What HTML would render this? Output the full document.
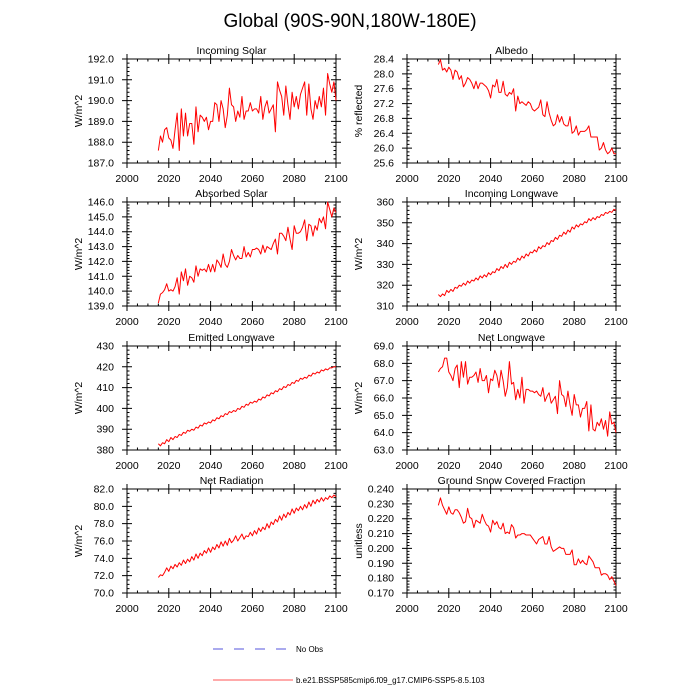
<!DOCTYPE html>
<html><head><meta charset="utf-8"><style>
body{margin:0;background:#fff;}
svg{display:block;font-family:"Liberation Sans",sans-serif;}
</style></head><body>
<svg id="c" width="700" height="700" viewBox="0 0 700 700">
<rect width="700" height="700" fill="#fff"/>
<text x="350" y="27" font-size="19" text-anchor="middle">Global (90S-90N,180W-180E)</text>
<g id="panels"></g>
<g>
<line x1="213" y1="649" x2="287" y2="649" stroke="#5555dd" stroke-width="0.9" stroke-dasharray="10,11"/>
<text x="296" y="652" font-size="8">No Obs</text>
<line x1="213" y1="680" x2="293" y2="680" stroke="#ff5555" stroke-width="0.9"/>
<text x="296" y="683" font-size="8">b.e21.BSSP585cmip6.f09_g17.CMIP6-SSP5-8.5.103</text>
</g>
</svg>
<script>
const years=[];for(let y=2015;y<=2100;y++)years.push(y);
const xTicks=[2000,2020,2040,2060,2080,2100];
const incomingSolar=[187.6,188.3,188.0,188.6,188.7,188.2,188.1,187.7,188.6,189.4,187.6,189.6,188.3,189.4,188.3,188.9,188.9,187.9,189.7,188.5,189.3,189.2,189.0,189.2,188.6,189.0,189.0,189.9,189.8,189.0,190.0,189.6,188.7,189.3,190.6,189.8,189.7,189.0,189.5,189.2,190.2,189.1,189.5,189.5,189.9,189.5,189.6,189.6,189.4,190.2,189.1,189.7,190.0,189.4,189.6,189.8,188.5,190.9,190.5,190.2,189.3,190.7,189.8,189.1,190.4,189.7,190.2,189.6,190.3,190.6,190.9,189.3,190.8,189.6,189.1,190.0,189.6,190.2,189.7,190.6,189.3,191.3,190.8,190.4,190.9,190.0];
const albedo=[28.25,28.38,28.1,28.15,28.05,28.18,28.1,27.85,28.1,28.05,27.85,27.95,27.65,27.75,27.9,27.85,27.75,27.6,27.8,27.6,27.75,27.75,27.7,27.65,27.55,27.35,27.7,27.65,27.85,27.5,27.5,27.8,27.45,27.4,27.5,27.45,27.6,27.0,27.4,27.2,27.25,27.2,27.15,27.25,27.2,27.05,27.0,27.05,27.1,27.3,26.9,26.85,27.25,26.95,26.75,26.6,26.65,26.9,26.7,26.85,26.65,26.6,26.6,26.85,26.4,26.45,26.6,26.35,26.45,26.45,26.45,26.5,26.6,26.3,26.3,26.3,26.3,25.95,26.0,26.15,25.95,25.85,25.9,26.0,25.85,25.85];
const absorbedSolar=[139.2,139.8,139.9,140.1,140.5,140.0,140.1,140.0,140.3,140.9,139.8,141.3,140.7,141.5,140.4,141.0,140.9,140.6,141.7,141.0,141.5,141.4,141.5,141.3,141.8,141.3,141.8,141.3,142.1,141.9,141.6,142.5,141.8,141.6,142.0,142.8,142.4,142.1,142.4,142.2,142.2,143.0,142.3,142.6,142.3,142.8,142.8,142.9,142.8,142.5,143.1,142.6,143.0,142.9,142.8,143.2,143.5,142.5,143.9,143.9,143.7,143.4,144.3,143.5,142.8,144.4,143.9,143.9,144.0,144.3,144.8,143.4,144.5,144.4,143.7,144.4,144.1,144.9,144.6,145.0,144.2,146.0,145.5,145.0,145.6,145.3];
const incomingLW=[315.5,314.5,315.8,315,317.5,316.5,318,317,319,318.5,320,319.5,321,320,322,321,322.5,322,323.5,322.5,324.5,323.5,325,324,326,325,326.5,326,328,327,329,328,330,328.5,331,330,331.5,331,333,332,334,333,335,334,336,335.5,337,336,338.5,337.5,339,338.5,340.5,339.5,341.5,341,343,342,344,343.5,345.5,344.5,346.5,345.5,348,347,349,348,349.5,349,350.5,350,352,351,352.5,351.5,353,352.5,354,353.5,355,354.5,355.5,355,356.5,356];
const emittedLW=[383,382,383.5,383,385,384,386,385,386.5,386,387.5,387,388.5,388,389.5,389,390,389.5,391,390.5,392,391.5,393,392.5,393.5,393,394.5,394,395.5,395,396.5,396,397.5,397,398.5,398,399,398.5,400,399.5,401,400.5,402,401.5,403,402.5,403.5,403,404.5,404,405.5,405,406.5,406,407.5,407,408.5,408,409.5,409,410.5,410,411.5,411,412.5,412,413.5,413,414.5,414,415,414.5,416,415.5,417,416.5,417.5,417,418.5,418,419,418.5,419.5,419.5,420,420];
const netLW=[67.5,67.7,67.8,68.3,68.3,67.5,67.3,67.0,67.7,67.9,66.6,68.1,67.2,68.1,66.8,67.2,67.2,67.3,67.5,66.9,67.7,67.0,67.0,67.3,66.3,67.1,67.0,67.6,67.3,66.6,67.6,67.0,66.1,66.6,68.1,66.8,66.9,65.9,66.5,66.0,67.2,65.7,66.5,66.5,66.4,66.4,66.3,66.4,66.2,66.1,66.6,65.8,66.1,66.3,65.7,65.9,66.1,65.1,67.0,66.2,66.1,65.5,66.4,65.6,65.0,66.2,65.6,65.6,64.9,65.4,65.4,65.8,64.1,65.6,64.2,64.1,64.6,64.4,64.8,64.2,64.7,63.8,65.2,64.5,64.6,64.0];
const netRad=[71.8,72.1,72.0,72.4,72.9,72.5,73.1,72.8,73.3,73.0,73.5,73.2,73.8,73.4,73.9,73.6,74.2,73.8,74.5,74.0,74.6,74.3,74.9,74.6,75.2,74.7,75.3,75.0,75.6,75.2,75.9,75.4,76.0,75.5,76.3,75.8,76.1,76.6,76.0,76.4,76.8,76.2,76.6,76.5,77.0,76.6,77.2,76.8,77.5,77.1,77.6,77.3,78.0,77.5,78.2,77.9,78.5,78.2,78.9,78.4,79.1,78.7,79.3,79.0,79.7,79.2,79.8,79.5,80.0,79.6,80.2,79.8,80.5,80.0,80.7,80.3,80.8,80.5,81.0,80.6,81.0,80.8,81.2,81.0,81.3,81.1];
const snowFrac=[.229,.234,.229,.226,.223,.228,.224,.223,.226,.226,.224,.221,.217,.218,.227,.221,.220,.214,.219,.218,.217,.223,.219,.216,.215,.211,.219,.216,.218,.214,.213,.217,.210,.211,.210,.216,.214,.207,.209,.209,.210,.210,.209,.209,.209,.207,.205,.203,.206,.207,.208,.203,.203,.208,.201,.198,.199,.200,.201,.200,.200,.196,.196,.196,.199,.189,.189,.193,.190,.192,.190,.189,.195,.193,.191,.187,.187,.187,.182,.183,.183,.182,.179,.181,.178,.175];
const titles=["Incoming Solar","Albedo","Absorbed Solar","Incoming Longwave","Emitted Longwave","Net Longwave","Net Radiation","Ground Snow Covered Fraction"];
const yLabels=["W/m^2","% reflected","W/m^2","W/m^2","W/m^2","W/m^2","W/m^2","unitless"];
const yMins=[187,25.6,139,310,380,63,70,0.170];
const yMaxs=[192,28.4,146,360,430,69,82,0.240];
const yStepsMajor=[1,0.4,1,10,10,1,2,0.01];
const yDecimals=[1,1,1,0,0,1,1,3];
const yMinorPer=[5,4,5,5,5,5,4,5];
const series=[incomingSolar,albedo,absorbedSolar,incomingLW,emittedLW,netLW,netRad,snowFrac];
const NS="http://www.w3.org/2000/svg";
const root=document.getElementById('panels');
function mk(tag,attrs,parent){const e=document.createElementNS(NS,tag);for(const k in attrs)e.setAttribute(k,attrs[k]);parent.appendChild(e);return e;}
const lefts=[127,407],tops=[59,202,346,489],W=209,H=104;
for(let i=0;i<8;i++){
  const L=lefts[i%2],T=tops[Math.floor(i/2)];
  const g=mk('g',{},root);
  
  
  const xs=v=>L+(v-2000)/100*W;
  const ys=v=>T+H-(v-yMins[i])/(yMaxs[i]-yMins[i])*H;
  const t=mk('text',{x:L+W/2,y:T-5,'font-size':10.5,'text-anchor':'middle'},g);t.textContent=titles[i];
  
  
  const yl=mk('text',{x:0,y:0,'font-size':10.5,'text-anchor':'middle',transform:`translate(${L-45},${T+H/2}) rotate(-90)`},g);yl.textContent=yLabels[i];
  
  
  let p='';
  for(let v=2000;v<=2100;v+=5){const x=xs(v);
    if(v%20===0)p+=`M${x},${T+H+5}v-10M${x},${T-5}v10`;
    else p+=`M${x},${T+H}v-2.5M${x},${T}v2.5`;}
  xTicks.forEach(v=>{const tx=mk('text',{x:xs(v),y:T+H+19,'font-size':10.5,'text-anchor':'middle'},g);tx.textContent=v;
    
    });
  const step=yStepsMajor[i],nMaj=Math.round((yMaxs[i]-yMins[i])/step);
  for(let k=0;k<=nMaj;k++){const v=yMins[i]+k*step;const y=ys(v);
    p+=`M${L-5},${y}h10M${L+W+5},${y}h-10`;
    const ty=mk('text',{x:L-13,y:y+3.5,'font-size':10.5,'text-anchor':'end'},g);ty.textContent=v.toFixed(yDecimals[i]);
    
    
    if(k<nMaj)for(let m=1;m<yMinorPer[i];m++){const yy=ys(v+m*step/yMinorPer[i]);p+=`M${L},${yy}h2.5M${L+W},${yy}h-2.5`;}
  }
  mk('path',{d:p,stroke:'#000','stroke-width':1,fill:'none'},g);
  const fr=mk('rect',{x:L,y:T,width:W,height:H,fill:'none',stroke:'#000','stroke-width':1},g);
  
  
  const d=series[i].map((v,j)=>(j?'L':'M')+xs(years[j]).toFixed(2)+','+ys(v).toFixed(2)).join('');
  const ln=mk('path',{d:d,stroke:'#ff0000','stroke-width':1,fill:'none','stroke-linejoin':'round'},g);
  
  
}
</script>
</body></html>
